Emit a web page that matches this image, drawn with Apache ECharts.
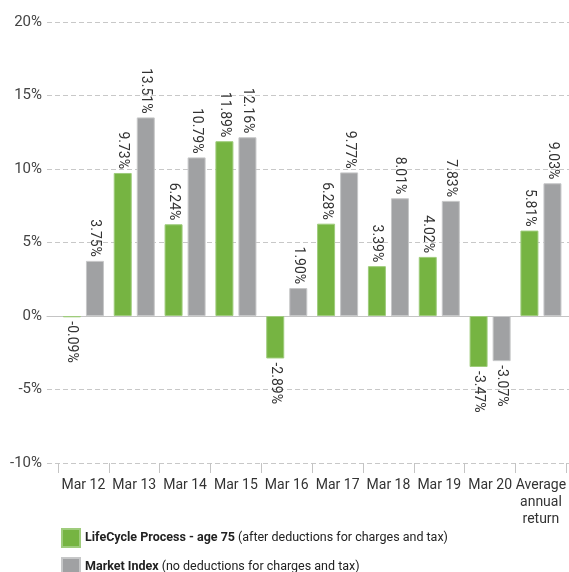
<!DOCTYPE html>
<html>
<head>
<meta charset="utf-8">
<script src="https://cdn.jsdelivr.net/npm/echarts@6/dist/echarts.min.js"></script>
<style>
	html, body { margin: 0; padding: 0; background: #fff; }
	#chart { width: 569px; height: 572px; }
</style>
</head>
<body>
<div id="chart"></div>
<script>
const categories = ['Mar 12', 'Mar 13', 'Mar 14', 'Mar 15', 'Mar 16', 'Mar 17', 'Mar 18', 'Mar 19', 'Mar 20', 'Average\nannual\nreturn'];
const lifeCycle = [-0.09, 9.73, 6.24, 11.89, -2.89, 6.28, 3.39, 4.02, -3.47, 5.81];
const marketIndex = [3.75, 13.51, 10.79, 12.16, 1.90, 9.77, 8.01, 7.83, -3.07, 9.03];
const seriesNames = ['LifeCycle Process - age 75', 'Market Index'];
const seriesNotes = ['(after deductions for charges and tax)', '(no deductions for charges and tax)'];
const yTicks = [-10, -5, 0, 5, 10, 15, 20];

const FONT = 'Roboto, sans-serif';

const chart = echarts.init(document.getElementById('chart'));

// labels sit above positive bars and below negative ones, reading downwards
function withLabels(values) {
	return values.map(function (v) {
		return {
			value: v,
			label: v >= 0
				? { position: 'top', align: 'right', distance: 4 }
				: { position: 'bottom', align: 'left', distance: 4 }
		};
	});
}

function barSeries(idx, color, border) {
	return {
		name: seriesNames[idx],
		type: 'bar',
		xAxisIndex: 1,
		yAxisIndex: 1,
		barWidth: 18,
		barGap: '28%',
		itemStyle: { color: color, borderColor: border, borderWidth: 1 },
		label: {
			show: true,
			rotate: -90,
			verticalAlign: 'middle',
			fontFamily: FONT,
			fontSize: 14,
			color: '#333',
			formatter: function (p) { return p.value.toFixed(2) + '%'; }
		},
		data: withLabels(idx === 0 ? lifeCycle : marketIndex)
	};
}

const option = {
	animation: false,
	grid: [
		{ left: 47, right: 0, top: 22, bottom: 109 },
		{ left: 58, right: 1, top: 22, bottom: 109 }
	],
	xAxis: [
		{
			gridIndex: 0,
			type: 'category',
			data: categories,
			axisLine: { onZero: true, lineStyle: { color: '#c4c4c4', width: 1 } },
			axisTick: { show: false },
			axisLabel: { show: false }
		},
		{
			gridIndex: 1,
			type: 'category',
			data: categories,
			axisLine: { show: false, onZero: false },
			axisTick: { show: true, length: 10, inside: false, lineStyle: { color: '#c4c4c4' } },
			axisLabel: {
				fontFamily: FONT,
				fontSize: 14,
				color: '#333',
				lineHeight: 17,
				margin: 14,
				interval: 0
			}
		}
	],
	yAxis: [
		{
			gridIndex: 0,
			type: 'value',
			min: yTicks[0],
			max: yTicks[yTicks.length - 1],
			interval: 5,
			axisLine: { show: false },
			axisTick: { show: false },
			axisLabel: {
				fontFamily: FONT,
				fontSize: 15,
				color: '#444',
				margin: 5,
				formatter: '{value}%'
			},
			splitLine: { lineStyle: { color: '#c8c8c8', type: [5, 3], width: 1 } }
		},
		{
			gridIndex: 1,
			type: 'value',
			min: yTicks[0],
			max: yTicks[yTicks.length - 1],
			interval: 5,
			axisLine: { show: false },
			axisTick: { show: false },
			axisLabel: { show: false },
			splitLine: { show: false }
		}
	],
	legend: {
		orient: 'vertical',
		left: 61,
		top: 528,
		height: 80,
		padding: 0,
		itemWidth: 18,
		itemHeight: 18,
		itemGap: 9,
		icon: 'rect',
		data: seriesNames,
		formatter: function (name) {
			const i = seriesNames.indexOf(name);
			return '{b|' + name + '} {n|' + seriesNotes[i] + '}';
		},
		textStyle: {
			fontFamily: FONT,
			rich: {
				b: { fontFamily: FONT, fontSize: 12.5, fontWeight: 'bold', color: '#222' },
				n: { fontFamily: FONT, fontSize: 12.5, color: '#222' }
			}
		}
	},
	series: [
		barSeries(0, '#76b442', '#9fcc7c'),
		barSeries(1, '#a0a1a3', '#c6c7c8')
	]
};

chart.setOption(option);
</script>
</body>
</html>
